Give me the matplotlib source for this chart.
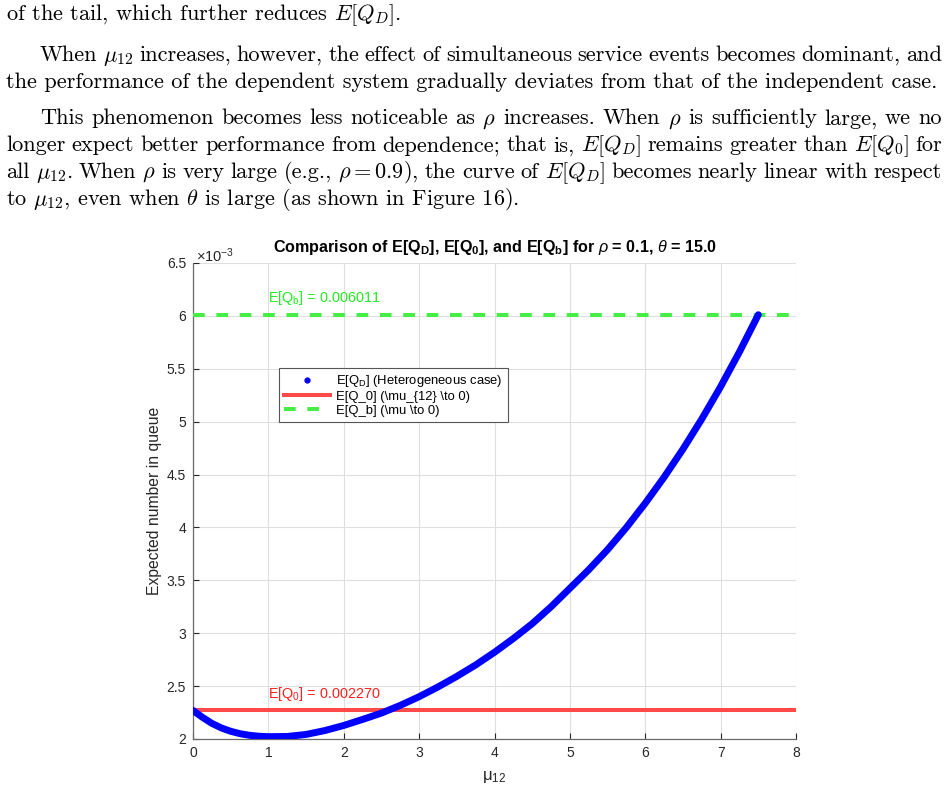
import re
import matplotlib
matplotlib.use("Agg")
import matplotlib.pyplot as plt
from matplotlib.lines import Line2D
from matplotlib.ticker import FuncFormatter, MultipleLocator

# ---------------- data ----------------
mu12 = [0, 0.125, 0.25, 0.375, 0.5, 0.625, 0.75, 0.875, 1.0, 1.25, 1.5, 1.75,
        2.0, 2.25, 2.5, 2.75, 3.0, 3.25, 3.5, 3.75, 4.0, 4.25, 4.5, 4.75, 5.0,
        5.25, 5.5, 5.75, 6.0, 6.25, 6.5, 6.75, 7.0, 7.25, 7.5]
EQD = [0.002270, 0.002205, 0.002148, 0.002105, 0.002073, 0.002050, 0.002035,
       0.002026, 0.002022, 0.002024, 0.002043, 0.002080, 0.002128, 0.002185,
       0.002245, 0.002318, 0.002400, 0.002492, 0.002592, 0.002700, 0.002820,
       0.002950, 0.003090, 0.003250, 0.003425, 0.003600, 0.003790, 0.004000,
       0.004229, 0.004475, 0.004740, 0.005025, 0.005331, 0.005660, 0.006011]
EQ0 = 0.002270
EQb = 0.006011
xticks = [0, 1, 2, 3, 4, 5, 6, 7, 8]

title = (r"Comparison of E[Q$_\mathbf{D}$], E[Q$_\mathbf{0}$], and E[Q$_\mathbf{b}$] "
         r"for $\rho$ = 0.1, $\theta$ = 15.0")
legend_labels = [r"E[Q$_\mathrm{D}$] (Heterogeneous case)",
                 r"E[Q_0] (\mu_{12} \to 0)",
                 r"E[Q_b] (\mu \to 0)"]
ylabel = "Expected number in queue"
xlabel = r"μ$_{12}$"

# paragraph lines: (text, x_start_px, baseline_px, justified)
para_lines = [
    (r"of the tail, which further reduces $E[Q_D]$.", 6, 20.5, False),
    (r"When $\mu_{12}$ increases, however, the effect of simultaneous service events becomes dominant, and", 40, 61.0, True),
    (r"the performance of the dependent system gradually deviates from that of the independent case.", 6, 87.7, False),
    (r"This phenomenon becomes less noticeable as $\rho$ increases. When $\rho$ is sufficiently large, we no", 40, 124.5, True),
    (r"longer expect better performance from dependence; that is, $E[Q_D]$ remains greater than $E[Q_0]$ for", 6, 151.2, True),
    (r"all $\mu_{12}$. When $\rho$ is very large (e.g., $\rho = 0.9$), the curve of $E[Q_D]$ becomes nearly linear with respect", 6, 177.9, True),
    (r"to $\mu_{12}$, even when $\theta$ is large (as shown in Figure 16).", 6, 204.6, False),
]

# ---------------- style ----------------
plt.rcParams["font.family"] = ["Liberation Sans", "DejaVu Sans"]
plt.rcParams["mathtext.fontset"] = "custom"
plt.rcParams["mathtext.rm"] = "Liberation Sans"
plt.rcParams["mathtext.it"] = "Liberation Sans:italic"
plt.rcParams["mathtext.bf"] = "Liberation Sans:bold"

W, H = 948, 811
fig = plt.figure(figsize=(W / 100, H / 100), dpi=100)
renderer = fig.canvas.get_renderer()

# ---------------- paragraph text ----------------
right_px = 942
probe = fig.text(0, 0, para_lines[2][0], fontsize=10, family="cmr10",
                 math_fontfamily="cm")
w10 = probe.get_window_extent(renderer).width
probe.remove()
fs = 10 * (938 - 6) / w10

tok_re = re.compile(r"(?:[^\s$]|\$[^$]*\$)+")
for text, x0, yb, justify in para_lines:
    if not justify:
        fig.text(x0 / W, 1 - yb / H, text, fontsize=fs, family="cmr10",
                 math_fontfamily="cm", va="baseline", ha="left")
        continue
    words = tok_re.findall(text)
    objs = [fig.text(0, 1 - yb / H, w, fontsize=fs, family="cmr10",
                     math_fontfamily="cm", va="baseline", ha="left") for w in words]
    widths = [o.get_window_extent(renderer).width for o in objs]
    gap = (right_px - x0 - sum(widths)) / (len(words) - 1)
    x = x0
    for o, wd in zip(objs, widths):
        o.set_x(x / W)
        x += wd + gap

# ---------------- chart ----------------
axc = "#262626"
ax = fig.add_axes([193 / W, 1 - 739 / H, 603 / W, 476 / H])
ax.plot(mu12, EQD, color="#0000ff", lw=5.0, solid_capstyle="round",
        solid_joinstyle="round", zorder=4)
ax.axhline(EQ0, color="#ff4a4a", lw=2.9, zorder=3)
ax.axhline(EQb, color="#44ee44", lw=2.9, ls=(0, (2.9, 2.9)), zorder=3)

ax.annotate(r"E[Q$_\mathrm{0}$] = %.6f" % EQ0, xy=(1.0, EQ0), xytext=(0, 9),
            textcoords="offset points", color="#ff2020", fontsize=10.4,
            va="baseline", ha="left")
ax.annotate(r"E[Q$_\mathrm{b}$] = %.6f" % EQb, xy=(1.0, EQb), xytext=(0, 9),
            textcoords="offset points", color="#22ee22", fontsize=10.4,
            va="baseline", ha="left")

ax.set_xlim(0, 8)
ax.set_ylim(0.002, 0.0065)
ax.set_xticks(xticks)
ax.yaxis.set_major_locator(MultipleLocator(0.0005))
ax.yaxis.set_major_formatter(FuncFormatter(lambda v, p: f"{v * 1e3:g}"))
ax.grid(True, color="#dfdfdf", lw=0.8)
ax.set_axisbelow(True)
for s in ["top", "right"]:
    ax.spines[s].set_visible(False)
for s in ["left", "bottom"]:
    ax.spines[s].set_color("#6a6a6a")
    ax.spines[s].set_linewidth(0.9)
ax.tick_params(direction="in", length=4, width=0.8, color=axc, labelcolor=axc,
               labelsize=10, pad=5)

ax.annotate(r"$\times$10$^{-3}$", xy=(0, 1.0), xycoords="axes fraction",
            xytext=(2, 1), textcoords="offset points", fontsize=10.5,
            color=axc, va="baseline", ha="left")
ax.set_title(title, fontsize=11.6, fontweight="bold", color="black", pad=8)

fig.text(155 / W, 1 - 501 / H, ylabel, rotation=90, fontsize=11.3, color=axc,
         ha="center", va="center")
fig.text(494 / W, 1 - 777 / H, xlabel, fontsize=12, color=axc,
         ha="center", va="center")

handles = [Line2D([], [], marker=".", color="#0000ff", ls="none", markersize=7),
           Line2D([], [], color="#ff4a4a", lw=2.9),
           Line2D([], [], color="#44ee44", lw=2.9, ls=(0, (2.9, 2.9)))]
leg = ax.legend(handles, legend_labels, loc="upper left",
                bbox_to_anchor=((279 - 193) / 603, (739 - 368) / 476),
                borderaxespad=0, fontsize=9.4, handlelength=3.5, handletextpad=0.45,
                labelspacing=0.12, borderpad=0.4, fancybox=False, framealpha=1)
leg.get_frame().set_edgecolor("#555555")
leg.get_frame().set_linewidth(0.8)

fig.savefig("out.png", dpi=100)
